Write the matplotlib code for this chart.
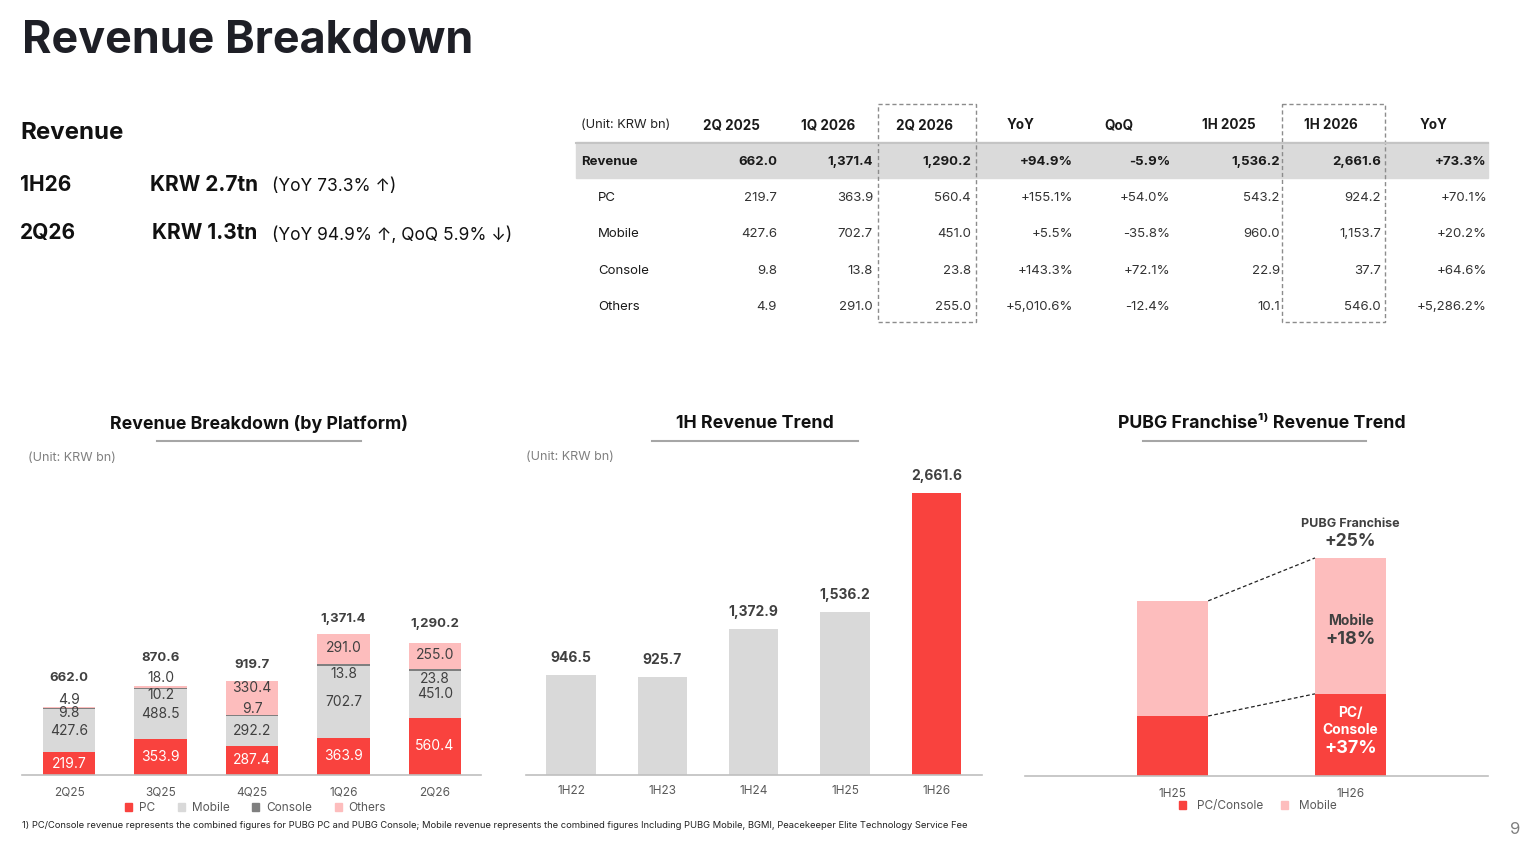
import matplotlib
matplotlib.use('Agg')
import matplotlib.pyplot as plt
from matplotlib.patches import Rectangle, Patch

plt.rcParams['font.family'] = ['Inter', 'DejaVu Sans']

# ---------------- data ----------------
quarters = ['2Q25', '3Q25', '4Q25', '1Q26', '2Q26']
pc = [219.7, 353.9, 287.4, 363.9, 560.4]
mobile = [427.6, 488.5, 292.2, 702.7, 451.0]
console = [9.8, 10.2, 9.7, 13.8, 23.8]
others = [4.9, 18.0, 330.4, 291.0, 255.0]

halves = ['1H22', '1H23', '1H24', '1H25', '1H26']
half_revenue = [946.5, 925.7, 1372.9, 1536.2, 2661.6]

pubg_periods = ['1H25', '1H26']
pubg_pc_console = [560.0, 767.0]
pubg_mobile = [1075.0, 1269.0]

table_cols = ['2Q 2025', '1Q 2026', '2Q 2026', 'YoY', 'QoQ', '1H 2025', '1H 2026', 'YoY']
table_rows = ['Revenue', 'PC', 'Mobile', 'Console', 'Others']
t_2q25 = [662.0, 219.7, 427.6, 9.8, 4.9]
t_1q26 = [1371.4, 363.9, 702.7, 13.8, 291.0]
t_2q26 = [1290.2, 560.4, 451.0, 23.8, 255.0]
t_yoy_q = [94.9, 155.1, 5.5, 143.3, 5010.6]
t_qoq = [-5.9, 54.0, -35.8, 72.1, -12.4]
t_1h25 = [1536.2, 543.2, 960.0, 22.9, 10.1]
t_1h26 = [2661.6, 924.2, 1153.7, 37.7, 546.0]
t_yoy_h = [73.3, 70.1, 20.2, 64.6, 5286.2]

# ---------------- style ----------------
RED = '#F9423E'
PINK = '#FDBDBD'
LGRAY = '#D9D9D9'
DGRAY = '#7F7F7F'
TXT = '#404040'
DARK = '#1E1F26'

W, H = 1539, 843
fig = plt.figure(figsize=(W / 100, H / 100), dpi=100)
bg = fig.add_axes([0, 0, 1, 1], zorder=0)
bg.set_xlim(0, W)
bg.set_ylim(H, 0)
bg.axis('off')


def add_ax(x0, x1, ytop, ybot, pad=8):
    a = fig.add_axes([x0 / W, 1 - ybot / H, (x1 - x0) / W, (ybot - ytop) / H], zorder=1)
    a.patch.set_alpha(0)
    for s in ['top', 'right', 'left']:
        a.spines[s].set_visible(False)
    a.spines['bottom'].set_color('#BFBFBF')
    a.spines['bottom'].set_linewidth(1.2)
    a.set_yticks([])
    a.tick_params(axis='x', length=0, pad=pad, labelsize=8.5, labelcolor='#595959')
    return a


# ---------------- header text ----------------
bg.text(22, 53, 'Revenue Breakdown', fontsize=32.3, fontweight='bold', color=DARK, va='baseline')
bg.text(20, 139, 'Revenue', fontsize=17.3, fontweight='bold', color='#111111', va='baseline')
bg.text(20, 191, '1H26', fontsize=15, fontweight='bold', color='#111111', va='baseline')
bg.text(150, 191, 'KRW 2.7tn', fontsize=15, fontweight='bold', color='#111111', va='baseline')
bg.text(272, 191, '(YoY 73.3% \u2191)', fontsize=12.5, color='#111111', va='baseline')
bg.text(20, 239, '2Q26', fontsize=15, fontweight='bold', color='#111111', va='baseline')
bg.text(152, 239, 'KRW 1.3tn', fontsize=15, fontweight='bold', color='#111111', va='baseline')
bg.text(272, 240, '(YoY 94.9% \u2191, QoQ 5.9% \u2193)', fontsize=12.5, color='#111111', va='baseline')

# ---------------- table ----------------
bg.add_patch(Rectangle((576, 142), 912, 36, color='#DADADA', zorder=0))
bg.plot([576, 1488], [142.5, 142.5], color='#C4C4C4', lw=1.5)
for (x0, x1) in [(878, 976), (1282, 1385)]:
    bg.add_patch(Rectangle((x0, 104), x1 - x0, 218, fill=False, ec='#8C8C8C', lw=1,
                           ls=(0, (3, 2))))

hdr_x = [731, 828, 925, 1021, 1119, 1229, 1331, 1434]
val_x = [777, 873, 971, 1073, 1170, 1280, 1381, 1487]
row_y = [162, 198, 234, 271, 307]
bg.text(581, 125, '(Unit: KRW bn)', fontsize=9.2, color='#222222', va='center')
for c, xh in zip(table_cols, hdr_x):
    bg.text(xh, 125, c, fontsize=9.7, fontweight='bold', color='#1a1a1a', va='center', ha='center')

cols_vals = [t_2q25, t_1q26, t_2q26, t_yoy_q, t_qoq, t_1h25, t_1h26, t_yoy_h]
is_pct = [False, False, False, True, True, False, False, True]
for r, (name, yy) in enumerate(zip(table_rows, row_y)):
    bold = (r == 0)
    bg.text(581 if bold else 598, yy, name, fontsize=9.5, fontweight='bold' if bold else 'normal',
            color='#1a1a1a', va='center')
    for vals, xv, pct in zip(cols_vals, val_x, is_pct):
        v = vals[r]
        s = f'{v:+,.1f}%' if pct else f'{v:,.1f}'
        bg.text(xv, yy, s, fontsize=9.5, fontweight='bold' if bold else 'normal',
                color='#1a1a1a' if bold else '#333333', va='center', ha='right')

# ---------------- chart titles ----------------
for cx, title, (l0, l1) in [(259, 'Revenue Breakdown (by Platform)', (157, 361)),
                            (755, '1H Revenue Trend', (652, 858)),
                            (1262, 'PUBG Franchise\u00b9\u207e Revenue Trend', (1143, 1366))]:
    bg.text(cx, 424, title, fontsize=12.8, fontweight='bold', color='#111111', ha='center', va='center')
    bg.plot([l0, l1], [441, 441], color='#A6A6A6', lw=1.5)
bg.text(28, 458, '(Unit: KRW bn)', fontsize=9, color='#7F7F7F', va='center')
bg.text(526, 457, '(Unit: KRW bn)', fontsize=9, color='#7F7F7F', va='center')

# ---------------- left chart ----------------
ax1 = add_ax(22, 481, 470, 775)
xs = list(range(len(quarters)))
bw = 0.57
b1 = pc
b2 = [a + b for a, b in zip(pc, mobile)]
b3 = [a + b for a, b in zip(b2, console)]
tot = [a + b for a, b in zip(b3, others)]
ax1.bar(xs, pc, width=bw, color=RED, label='PC')
ax1.bar(xs, mobile, width=bw, bottom=b1, color=LGRAY, label='Mobile')
ax1.bar(xs, console, width=bw, bottom=b2, color=DGRAY, label='Console')
ax1.bar(xs, others, width=bw, bottom=b3, color=PINK, label='Others')
ax1.set_xlim(-0.514, 4.503)
ax1.set_ylim(0, 2976)
ax1.set_xticks(xs)
ax1.set_xticklabels(quarters)

cons_off = [-5, -7, 6, -9, -9]
oth_off = [7.5, 9, 10, 1, 1]
tot_off = [29, 28, 16, 15, 19]
for i in xs:
    ax1.annotate(f'{pc[i]:,.1f}', (i, pc[i] / 2), ha='center', va='center', fontsize=10, color='white')
    ax1.annotate(f'{mobile[i]:,.1f}', (i, b1[i] + mobile[i] / 2), ha='center', va='center',
                 fontsize=10, color=TXT)
    ax1.annotate(f'{console[i]:,.1f}', (i, b2[i] + console[i] / 2), xytext=(0, cons_off[i]),
                 textcoords='offset pixels', ha='center', va='center', fontsize=10, color=TXT)
    ax1.annotate(f'{others[i]:,.1f}', (i, b3[i] + others[i] / 2), xytext=(0, oth_off[i]),
                 textcoords='offset pixels', ha='center', va='center', fontsize=10, color=TXT)
    ax1.annotate(f'{tot[i]:,.1f}', (i, tot[i]), xytext=(0, tot_off[i]), textcoords='offset pixels',
                 ha='center', va='center', fontsize=9.5, fontweight='bold', color=TXT)

h1 = [Patch(color=RED), Patch(color=LGRAY), Patch(color=DGRAY), Patch(color=PINK)]
ax1.legend(h1, ['PC', 'Mobile', 'Console', 'Others'], loc='center', bbox_to_anchor=(0.509, -0.108),
           ncol=4, frameon=False, fontsize=8.5, handlelength=0.6, handleheight=0.6,
           handletextpad=0.6, columnspacing=1.9, labelcolor='#595959')

# ---------------- middle chart ----------------
ax2 = add_ax(526, 982, 470, 775, pad=7.5)
hx = list(range(len(halves)))
cols2 = [LGRAY] * (len(halves) - 1) + [RED]
ax2.bar(hx, half_revenue, width=0.54, color=cols2)
ax2.set_xlim(-0.493, 4.50)
ax2.set_ylim(0, 2877)
ax2.set_xticks(hx)
ax2.set_xticklabels(halves)
for i in hx:
    ax2.annotate(f'{half_revenue[i]:,.1f}', (i, half_revenue[i]), xytext=(0, 17),
                 textcoords='offset pixels', ha='center', va='center', fontsize=10,
                 fontweight='bold', color=TXT)

# ---------------- right chart ----------------
ax3 = add_ax(1025, 1488, 470, 776, pad=8.5)
px = [0, 1]
pw = 0.40
ax3.bar(px, pubg_pc_console, width=pw, color=RED)
ax3.bar(px, pubg_mobile, width=pw, bottom=pubg_pc_console, color=PINK)
ax3.set_xlim(-0.829, 1.772)
ax3.set_ylim(0, 2857)
ax3.set_xticks(px)
ax3.set_xticklabels(pubg_periods)
ptot = [a + b for a, b in zip(pubg_pc_console, pubg_mobile)]
ax3.plot([pw / 2, 1 - pw / 2], [ptot[0], ptot[1]], color='#222222', lw=0.9, ls=(0, (3, 2)))
ax3.plot([pw / 2, 1 - pw / 2], [pubg_pc_console[0], pubg_pc_console[1]], color='#222222', lw=0.9,
         ls=(0, (3, 2)))
g_tot = (ptot[1] / ptot[0] - 1) * 100
g_mob = (pubg_mobile[1] / pubg_mobile[0] - 1) * 100
g_pc = (pubg_pc_console[1] / pubg_pc_console[0] - 1) * 100
ax3.annotate('PUBG Franchise', (1, ptot[1]), xytext=(0, 34), textcoords='offset pixels',
             ha='center', va='center', fontsize=9, fontweight='bold', color=TXT)
ax3.annotate(f'+{g_tot:.0f}%', (1, ptot[1]), xytext=(0, 16), textcoords='offset pixels',
             ha='center', va='center', fontsize=12.5, fontweight='bold', color=TXT)
mid_m = pubg_pc_console[1] + pubg_mobile[1] / 2
ax3.annotate('Mobile', (1, mid_m), xytext=(0, 5), textcoords='offset pixels',
             ha='center', va='center', fontsize=10, fontweight='bold', color=TXT)
ax3.annotate(f'+{g_mob:.0f}%', (1, mid_m), xytext=(0, -14), textcoords='offset pixels',
             ha='center', va='center', fontsize=13, fontweight='bold', color=TXT)
mid_p = pubg_pc_console[1] / 2
for txt, off, fs in [('PC/', 21.5, 10), ('Console', 4.5, 10), (f'+{g_pc:.0f}%', -13.5, 13)]:
    ax3.annotate(txt, (1, mid_p), xytext=(0, off), textcoords='offset pixels',
                 ha='center', va='center', fontsize=fs, fontweight='bold', color='white')
h3 = [Patch(color=RED), Patch(color=PINK)]
ax3.legend(h3, ['PC/Console', 'Mobile'], loc='center', bbox_to_anchor=(0.503, -0.098),
           ncol=2, frameon=False, fontsize=8.5, handlelength=0.6, handleheight=0.6,
           handletextpad=0.9, columnspacing=1.5, labelcolor='#595959')

# ---------------- footnote & page ----------------
bg.text(22, 825, '1) PC/Console revenue represents the combined figures for PUBG PC and PUBG Console; '
        'Mobile revenue represents the combined figures Including PUBG Mobile, BGMI, Peacekeeper Elite '
        'Technology Service Fee', fontsize=6.75, color='#222222', va='center')
bg.text(1515, 829, '9', fontsize=12, color='#7F7F7F', ha='center', va='center')

fig.savefig('out.png', dpi=100)
